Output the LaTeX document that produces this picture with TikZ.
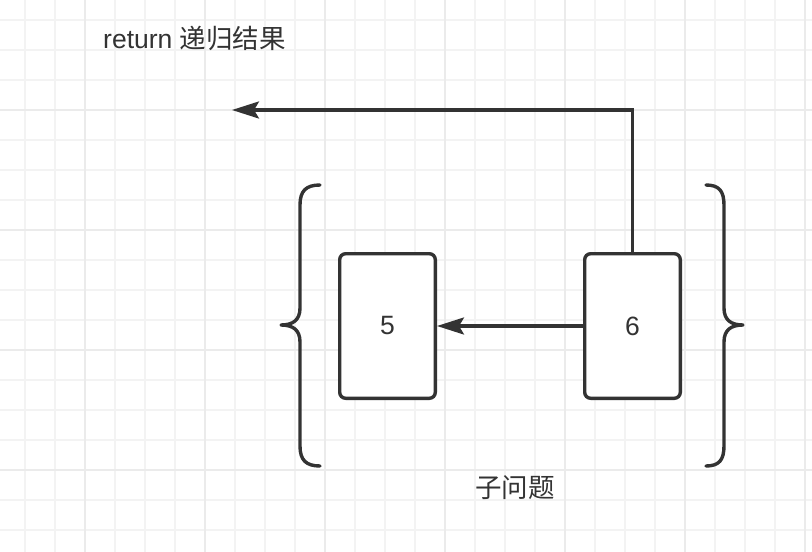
\documentclass[tikz,border=0pt]{standalone}
\usepackage{fontspec}
\setmainfont{Liberation Sans}
\newfontfamily\cjk{Noto Sans CJK SC}
\usetikzlibrary{arrows.meta}
\definecolor{ink}{HTML}{333333}
\definecolor{gridminor}{HTML}{F3F3F3}
\definecolor{gridmajor}{HTML}{EBEBEB}
\tikzset{
  card/.style={draw=ink, line width=3.4pt, rounded corners=6pt, fill=white,
    minimum width=95.6pt, minimum height=144.6pt, inner sep=0pt,
    font=\fontsize{26.5}{30}\selectfont, text=ink},
  conn/.style={draw=ink, line width=3.2pt,
    -{Stealth[length=27pt,width=17pt,inset=5pt]}},
  bracepath/.style={draw=ink, line width=3.4pt, line cap=round, line join=round},
  lbl/.style={font=\fontsize{26.5}{30}\selectfont, text=ink, inner sep=0pt}
}
\begin{document}
\begin{tikzpicture}[x=1pt,y=-1pt]
\useasboundingbox (0,0) rectangle (812,552);
\fill[white] (0,0) rectangle (812,552);
% grid
\foreach \k in {0,...,26}{
  \pgfmathtruncatemacro{\gx}{25+30*\k}
  \draw[gridminor, line width=1.2pt] (\gx,0) -- (\gx,552);
}
\foreach \k in {0,...,17}{
  \pgfmathtruncatemacro{\gy}{20+30*\k}
  \draw[gridminor, line width=1.2pt] (0,\gy) -- (812,\gy);
}
\foreach \gx in {85,205,325,445,565,685,805}
  \draw[gridmajor, line width=1.2pt] (\gx,0) -- (\gx,552);
\foreach \gy in {110,230,350,470}
  \draw[gridmajor, line width=1.2pt] (0,\gy) -- (812,\gy);

% braces
\draw[bracepath] (320,185) .. controls (306,185) and (300,191) .. (300,205)
  -- (300,308) .. controls (300,320) and (293,325) .. (281,325)
  .. controls (293,325) and (300,330) .. (300,342)
  -- (300,446) .. controls (300,460) and (306,466) .. (320,466);
\draw[bracepath] (706,185) .. controls (719,185) and (724,191) .. (724,205)
  -- (724,308) .. controls (724,320) and (731,325) .. (743,325)
  .. controls (731,325) and (724,330) .. (724,342)
  -- (724,446) .. controls (724,460) and (719,466) .. (706,466);

% boxes
\node[card] (b5) at (387.5,326) {5};
\node[card] (b6) at (632.5,326) {6};

% connectors
\coordinate (retend) at (232,110);
\draw[conn] (b6.west) -- (b5.east);
\draw[conn] (b6.north) |- (retend);

% labels
\node[lbl, anchor=west] (ret) at (103,38) {return {\cjk 递归结果}};
\node[lbl] (sub) at (515,488) {\cjk 子问题};
\end{tikzpicture}
\end{document}
